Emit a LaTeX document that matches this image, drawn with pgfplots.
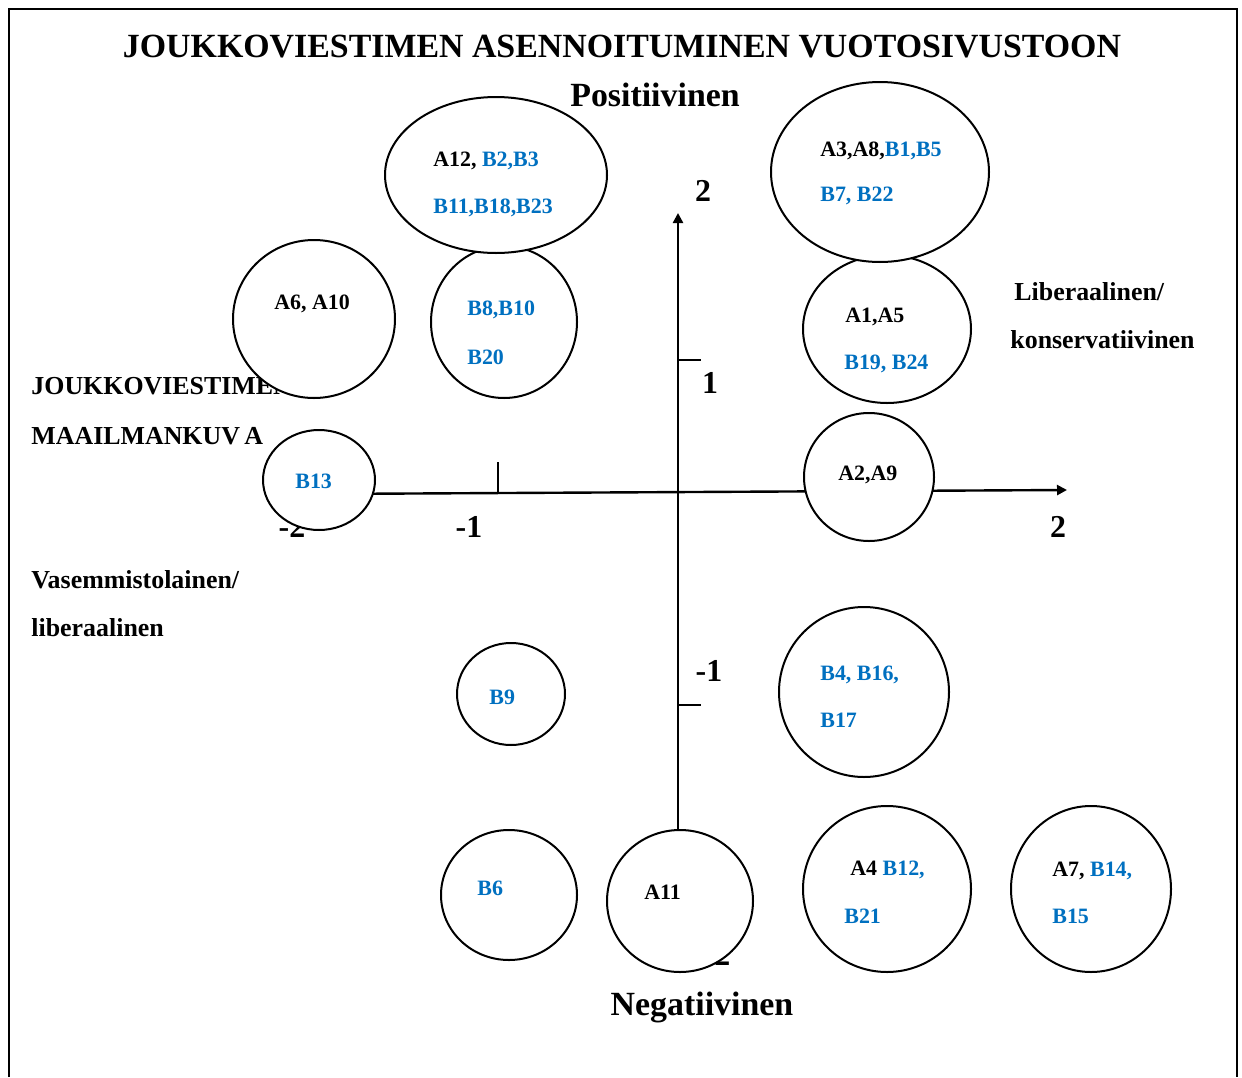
\documentclass[border=0pt]{standalone}
\usepackage{fontspec}
\setmainfont{Liberation Serif}
\usepackage{pgfplots}
\pgfplotsset{compat=1.18}
\usetikzlibrary{arrows.meta}
\definecolor{bl}{HTML}{0070C0}
\newcommand{\circlab}{\fontsize{11}{13}\selectfont\bfseries}
\newcommand{\sidelab}{\fontsize{13}{15}\selectfont\bfseries}
\newcommand{\ticklab}{\fontsize{16}{18}\selectfont\bfseries}
\begin{document}
\begin{tikzpicture}
\begin{axis}[width=621bp,height=538.5bp,scale only axis,
  xmin=0,xmax=1242,ymin=0,ymax=1077,y dir=reverse,hide axis,clip=false]
% page extent
\path (axis cs:0,0) rectangle (axis cs:1242,1077);
% frame
\addplot[black,line width=1bp] coordinates {(9,1077) (9,9) (1237,9) (1237,1077)};
% titles and side labels
\node[inner sep=0,font=\fontsize{17}{20}\selectfont\bfseries] at (axis cs:622,47) {JOUKKOVIESTIMEN ASENNOITUMINEN VUOTOSIVUSTOON};
\node[inner sep=0,font=\fontsize{17}{20}\selectfont\bfseries] at (axis cs:655,95) {Positiivinen};
\node[inner sep=0,font=\fontsize{17}{20}\selectfont\bfseries] at (axis cs:702,1007) {Negatiivinen};
\node[anchor=west,inner sep=0,font=\sidelab] at (axis cs:31,386) {JOUKKOVIESTIMEN};
\node[anchor=west,inner sep=0,font=\sidelab] at (axis cs:31,436) {MAAILMANKUV\,A};
\node[anchor=west,inner sep=0,font=\sidelab] at (axis cs:31,580) {Vasemmistolainen/};
\node[anchor=west,inner sep=0,font=\sidelab] at (axis cs:31,628) {liberaalinen};
\node[anchor=west,inner sep=0,font=\sidelab] at (axis cs:1014,292) {Liberaalinen/};
\node[anchor=west,inner sep=0,font=\sidelab] at (axis cs:1010,340) {konservatiivinen};
% tick labels
\node[inner sep=0,font=\ticklab] at (axis cs:703,191) {2};
\node[inner sep=0,font=\ticklab] at (axis cs:710,383) {1};
\node[inner sep=0,font=\ticklab] at (axis cs:709,671) {-1};
\node[inner sep=0,font=\ticklab] at (axis cs:717,955) {-2};
\node[inner sep=0,font=\ticklab] at (axis cs:292,527) {-2};
\node[inner sep=0,font=\ticklab] at (axis cs:469,527) {-1};
\node[inner sep=0,font=\ticklab] at (axis cs:1058,527) {2};
% axes
\addplot[black,line width=1.2bp,-{Triangle[length=5bp,width=5bp]}] coordinates {(678,900) (678,213)};
\addplot[black,line width=1.2bp,-{Triangle[length=5bp,width=5bp]}] coordinates {(319,494) (1067,490)};
\addplot[black,line width=0.8bp] coordinates {(678,360) (701,360)};
\addplot[black,line width=0.8bp] coordinates {(678,705) (701,705)};
\addplot[black,line width=0.8bp] coordinates {(498,493) (498,462)};
% circles
\tikzset{bub/.style={draw=black,fill=white,line width=1bp}}
\draw[bub] (axis cs:314,319) ellipse [x radius=81, y radius=79];
\node[anchor=west,inner sep=0,font=\circlab] at (axis cs:274,304) {A6, A10};
\draw[bub] (axis cs:504,322) ellipse [x radius=73, y radius=76];
\node[anchor=west,inner sep=0,font=\circlab,text=bl] at (axis cs:467,310) {B8,B10};
\node[anchor=west,inner sep=0,font=\circlab,text=bl] at (axis cs:467,357) {B20};
\draw[bub] (axis cs:887,329) ellipse [x radius=84, y radius=74];
\node[anchor=west,inner sep=0,font=\circlab] at (axis cs:845,317) {A1,A5};
\node[anchor=west,inner sep=0,font=\circlab,text=bl] at (axis cs:844,364) {B19, B24};
\draw[bub] (axis cs:496,175) ellipse [x radius=111, y radius=78];
\node[anchor=west,inner sep=0,font=\circlab] at (axis cs:433,161) {A12, \textcolor{bl}{B2,B3}};
\node[anchor=west,inner sep=0,font=\circlab,text=bl] at (axis cs:433,208) {B11,B18,B23};
\draw[bub] (axis cs:880,172) ellipse [x radius=109, y radius=90];
\node[anchor=west,inner sep=0,font=\circlab] at (axis cs:820,151) {A3,A8,\textcolor{bl}{B1,B5}};
\node[anchor=west,inner sep=0,font=\circlab,text=bl] at (axis cs:820,196) {B7, B22};
\draw[bub] (axis cs:319,480) ellipse [x radius=56, y radius=50];
\node[anchor=west,inner sep=0,font=\circlab,text=bl] at (axis cs:295,481) {B13};
\draw[bub] (axis cs:869,477) ellipse [x radius=65, y radius=64];
\node[anchor=west,inner sep=0,font=\circlab] at (axis cs:838,475) {A2,A9};
\draw[bub] (axis cs:511,694) ellipse [x radius=54, y radius=51];
\node[anchor=west,inner sep=0,font=\circlab,text=bl] at (axis cs:489,697) {B9};
\draw[bub] (axis cs:864,692) ellipse [x radius=85, y radius=85];
\node[anchor=west,inner sep=0,font=\circlab,text=bl] at (axis cs:820,675) {B4, B16,};
\node[anchor=west,inner sep=0,font=\circlab,text=bl] at (axis cs:820,720) {B17};
\draw[bub] (axis cs:509,895) ellipse [x radius=68, y radius=65];
\node[anchor=west,inner sep=0,font=\circlab,text=bl] at (axis cs:477,888) {B6};
\draw[bub] (axis cs:680,901) ellipse [x radius=73, y radius=71];
\node[anchor=west,inner sep=0,font=\circlab] at (axis cs:644,892) {A11};
\draw[bub] (axis cs:887,889) ellipse [x radius=84, y radius=83];
\node[anchor=west,inner sep=0,font=\circlab] at (axis cs:850,870) {A4 \textcolor{bl}{B12,}};
\node[anchor=west,inner sep=0,font=\circlab,text=bl] at (axis cs:844,916) {B21};
\draw[bub] (axis cs:1091,889) ellipse [x radius=80, y radius=83];
\node[anchor=west,inner sep=0,font=\circlab] at (axis cs:1052,871) {A7, \textcolor{bl}{B14,}};
\node[anchor=west,inner sep=0,font=\circlab,text=bl] at (axis cs:1052,916) {B15};
\end{axis}
\end{tikzpicture}
\end{document}
